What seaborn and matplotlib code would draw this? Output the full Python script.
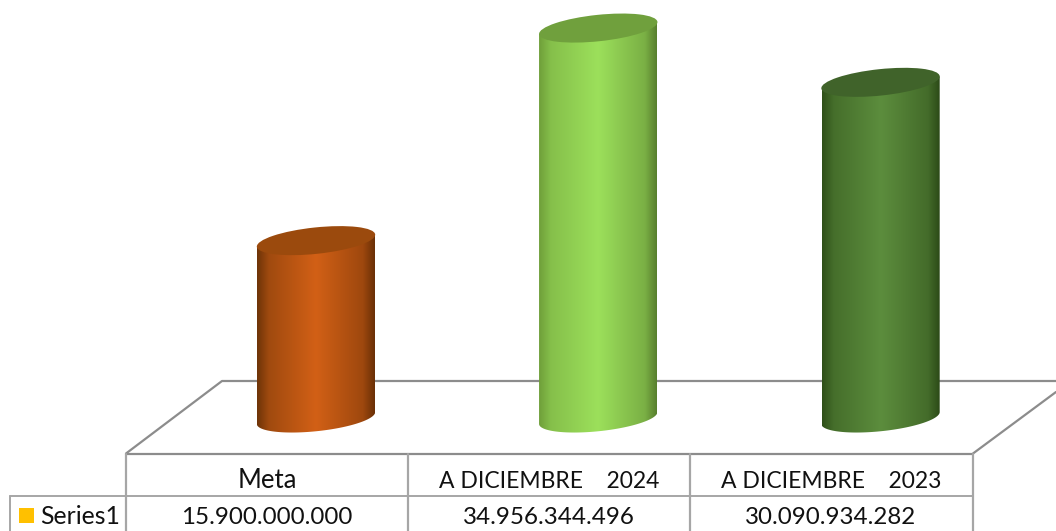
import numpy as np
import pandas as pd
import matplotlib
matplotlib.use('Agg')
import matplotlib.pyplot as plt
from matplotlib.colors import LinearSegmentedColormap, to_rgb
from matplotlib.patches import Ellipse, Rectangle
from matplotlib.path import Path
from matplotlib.transforms import Affine2D, IdentityTransform
import seaborn as sns

# Chart data.
categories = ['Meta', 'A DICIEMBRE    2024', 'A DICIEMBRE    2023']
values = [15900000000, 34956344496, 30090934282]
value_labels = ['15.900.000.000', '34.956.344.496', '30.090.934.282']
series_name = 'Series1'

# Shading of each cylinder: left edge, centre, right edge, lid.
left_colors = ['#6E3408', '#6F9F3A', '#2F5019']
mid_colors = ['#D26016', '#9CE05B', '#5C8D3D']
right_colors = ['#6A3006', '#587F2E', '#2C4A17']
lid_colors = ['#9B4A0D', '#70A03D', '#40632A']

W, H = 1056, 531
sns.set_theme(style = 'white')
plt.rcParams['font.family'] = ['Lato', 'DejaVu Sans']

fig = plt.figure(figsize = (W / 100, H / 100), dpi = 100, facecolor = 'white')

# Floor and data table, in pixels.
frame = fig.add_axes([0, 0, 1, 1])
frame.set_xlim(0, W)
frame.set_ylim(H, 0)
frame.axis('off')

floor_color = '#8C8C8C'
table_color = '#A6A6A6'
frame.plot([126, 222, W], [453.5, 381, 381], color = floor_color, linewidth = 1.6)
frame.plot([973, W], [453.5, 392], color = floor_color, linewidth = 1.6)
frame.plot([126, 973], [453.5, 453.5], color = floor_color, linewidth = 1.6)
frame.plot([10, 973], [495.5, 495.5], color = table_color, linewidth = 1.4)
frame.plot([10, 10], [495.5, H], color = table_color, linewidth = 1.4)
for x in [126, 408, 690, 973] :
    frame.plot([x, x], [453.5, H], color = table_color, linewidth = 1.6)

column_centers = [267, 549, 831]
for x, name, label in zip(column_centers, categories, value_labels) :
    name_size = 18.5 if name == 'Meta' else 16.5
    frame.text(x, 481, name, ha = 'center', va = 'center', fontsize = name_size, color = '#111111')
    frame.text(x, 518, label, ha = 'center', va = 'center', fontsize = 17.4, color = '#111111')
frame.add_patch(Rectangle((19, 508), 15, 15, facecolor = '#FFC000', edgecolor = 'none'))
frame.text(40, 517, series_name, ha = 'left', va = 'center', fontsize = 17.8, color = '#111111')

# Cylinders, on the value axis.
ax = fig.add_axes([0, 0, 1, 1])
ax.patch.set_alpha(0)

df = pd.DataFrame({'category' : categories, 'value' : values})
sns.barplot(data = df, x = 'category', y = 'value', width = 118 / 282.25, ax = ax)

x_per_px = 1 / 282.25
y_per_px = 1e9 / 11.155
xlim = (-316 * x_per_px, (W - 316) * x_per_px)
ylim = (-(H - 418) * y_per_px, 418 * y_per_px)
ax.set_xlim(xlim)
ax.set_ylim(ylim)
ax.axis('off')

a, b, angle = 59.5, 13.2, 6
t = np.radians(angle)
x_reach = np.hypot(a * np.cos(t), b * np.sin(t))
y_at_reach = (a ** 2 - b ** 2) * np.sin(t) * np.cos(t) / x_reach

def blend(edge, mid, amount) :
    return tuple(e + (m - e) * amount for e, m in zip(to_rgb(edge), to_rgb(mid)))

for i, bar in enumerate(list(ax.patches)) :
    bar.set_visible(False)
    left, width, height = bar.get_x(), bar.get_width(), bar.get_height()
    center = left + width / 2

    cmap = LinearSegmentedColormap.from_list('cyl', [
        (0, left_colors[i]),
        (0.1, blend(left_colors[i], mid_colors[i], 0.5)),
        (0.5, mid_colors[i]),
        (0.9, blend(right_colors[i], mid_colors[i], 0.5)),
        (1, right_colors[i]),
    ])
    image = ax.imshow(
        np.linspace(0, 1, 256)[np.newaxis, :], cmap = cmap, vmin = 0, vmax = 1, aspect = 'auto',
        extent = (left, left + width, 0 - 20 * y_per_px, height + 20 * y_per_px),
        zorder = 3
    )

    # Body outline: the sides run from the lid down to the lower arc of the base.
    cx, cy_top = ax.transData.transform((center, height))
    _, cy_base = ax.transData.transform((center, 0))
    phase = np.arctan2(-b * np.sin(t), a * np.cos(t))
    angles = np.linspace(np.pi + phase, 2 * np.pi + phase, 80)
    arc_x = a * np.cos(angles) * np.cos(t) - b * np.sin(angles) * np.sin(t)
    arc_y = a * np.cos(angles) * np.sin(t) + b * np.sin(angles) * np.cos(t)
    outline = np.vstack([
        np.column_stack([cx + arc_x, cy_base + arc_y]),
        [[cx + x_reach, cy_top + y_at_reach], [cx - x_reach, cy_top - y_at_reach]],
        [[cx + arc_x[0], cy_base + arc_y[0]]],
    ])
    image.set_clip_path(Path(outline, closed = True), IdentityTransform())

    lid = Ellipse(
        (0, 0), 2 * a, 2 * b, angle = angle, facecolor = lid_colors[i], edgecolor = 'none',
        transform = Affine2D().translate(cx, cy_top), zorder = 4
    )
    ax.add_patch(lid)

ax.set_xlim(xlim)
ax.set_ylim(ylim)

fig.savefig('out.png', dpi = 100)
